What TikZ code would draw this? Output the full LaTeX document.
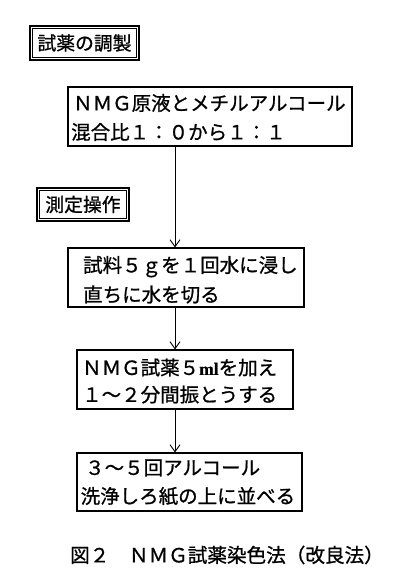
\documentclass[tikz,border=0pt]{standalone}
\usepackage{fontspec}
\setmainfont{Noto Sans CJK JP}[FakeBold=0.9]
\newfontfamily\latf{Liberation Serif}[FakeBold=0.6]
\usetikzlibrary{arrows.meta}
\begin{document}
\begin{tikzpicture}[x=1pt,y=-1pt,
  box/.style={draw, line width=1.1pt, rectangle, inner sep=0pt},
  tbox/.style={draw, line width=1.6pt, rectangle, inner sep=0pt, font=\fontsize{18.8pt}{22pt}\selectfont},
  inframe/.style={line width=0.8pt},
  txt/.style={anchor=base west, inner sep=0pt, font=\fontsize{19.5pt}{24pt}\selectfont},
  arr/.style={line width=0.9pt, -{Straight Barb[length=7pt,width=10pt,line width=0.9pt]}}]
\useasboundingbox (0,0) rectangle (400,584);
% title boxes
\node[tbox, minimum width=109pt, minimum height=34pt] (t1) at (84.5,43) {試薬の調製};
\draw[inframe] ([xshift=3pt,yshift=-3pt]t1.north west) rectangle ([xshift=-3pt,yshift=3pt]t1.south east);
\node[tbox, minimum width=92pt, minimum height=33pt] (t2) at (83,204.5) {測定操作};
\draw[inframe] ([xshift=3pt,yshift=-3pt]t2.north west) rectangle ([xshift=-3pt,yshift=3pt]t2.south east);
% boxes
\node[box, minimum width=284pt, minimum height=59pt] (b1) at (210,116.5) {};
\node[txt] (b1a) at (73,110.4) {ＮＭＧ原液とメチルアルコール};
\node[txt] (b1b) at (71,139.4) {混合比１：０から１：１};
\node[box, minimum width=236pt, minimum height=59pt] (b2) at (186,277.5) {};
\node[txt] (b2a) at (83,272.4) {試料５ｇを１回水に浸し};
\node[txt] (b2b) at (83,301.9) {直ちに水を切る};
\node[box, minimum width=216pt, minimum height=59pt] (b3) at (185,379.5) {};
\node[txt] (b3a) at (82,374.9) {ＮＭＧ試薬５\makebox[1em]{\latf\bfseries\fontsize{17.5pt}{20pt}\selectfont ml}を加え};
\node[txt] (b3b) at (82,401.9) {１～２分間振とうする};
\node[box, minimum width=225pt, minimum height=58pt] (b4) at (189.5,482) {};
\node[txt] (b4a) at (85,474.9) {３～５回アルコール};
\node[txt] (b4b) at (80.5,503.4) {洗浄しろ紙の上に並べる};
% caption
\node[txt, font=\fontsize{19.6pt}{24pt}\selectfont] (cap) at (70,562.4) {図２　ＮＭＧ試薬染色法（改良法）};
% connectors
\coordinate (ax) at (175,0);
\draw[arr] (b1.south -| ax) -- (b2.north -| ax);
\draw[arr] (b2.south -| ax) -- (b3.north -| ax);
\draw[arr] (b3.south -| ax) -- (b4.north -| ax);
\end{tikzpicture}
\end{document}
